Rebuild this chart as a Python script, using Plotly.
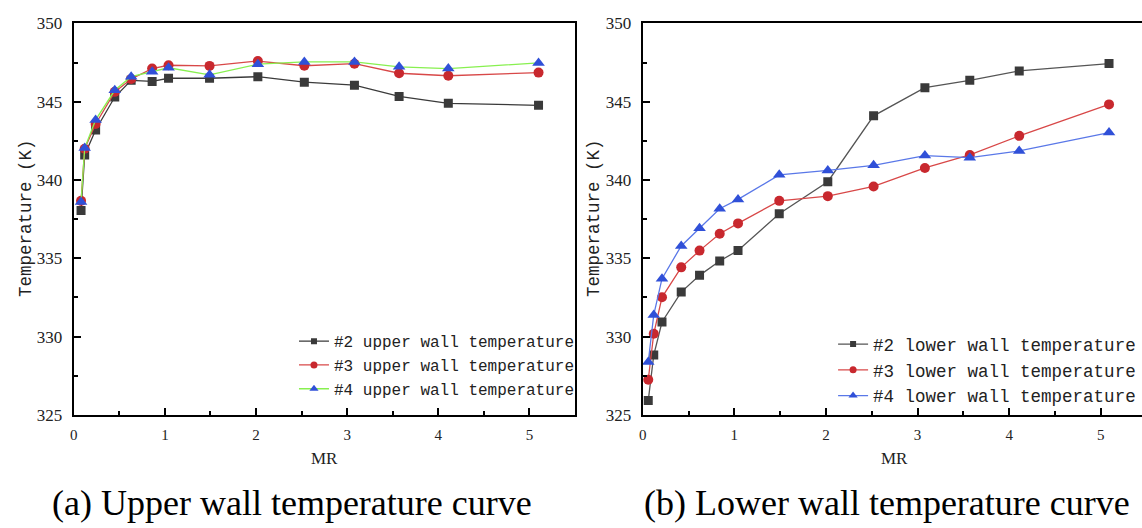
import plotly.graph_objects as go

W, H = 1142, 528

# ---------------- data ----------------
mr_upper = [0.08, 0.12, 0.24, 0.45, 0.63, 0.86, 1.04, 1.49, 2.02, 2.53, 3.08, 3.57, 4.11, 5.10]
upper_2 = [338.05, 341.6, 343.2, 345.3, 346.37, 346.3, 346.5, 346.5, 346.6, 346.25, 346.06, 345.34, 344.9, 344.77]
upper_3 = [338.67, 342.0, 343.58, 345.63, 346.45, 347.12, 347.33, 347.29, 347.6, 347.3, 347.43, 346.82, 346.66, 346.86]
upper_4 = [338.6, 342.04, 343.84, 345.73, 346.6, 346.92, 347.17, 346.72, 347.4, 347.54, 347.54, 347.23, 347.12, 347.48]

mr_lower = [0.06, 0.12, 0.21, 0.42, 0.62, 0.84, 1.04, 1.49, 2.02, 2.52, 3.08, 3.57, 4.11, 5.09]
lower_2 = [325.91, 328.82, 330.93, 332.84, 333.91, 334.83, 335.5, 337.84, 339.89, 344.1, 345.9, 346.37, 346.97, 347.44]
lower_3 = [327.24, 330.18, 332.51, 334.42, 335.49, 336.57, 337.23, 338.67, 338.97, 339.59, 340.77, 341.6, 342.82, 344.83]
lower_4 = [328.37, 331.38, 333.7, 335.79, 336.92, 338.17, 338.76, 340.33, 340.61, 340.94, 341.56, 341.43, 341.86, 343.03]

upper_names = ["#2 upper wall temperature", "#3 upper wall temperature", "#4 upper wall temperature"]
lower_names = ["#2 lower wall temperature", "#3 lower wall temperature", "#4 lower wall temperature"]
captions = ["(a) Upper wall temperature curve", "(b) Lower wall temperature curve"]
x_title = "MR"
y_title = "Temperature (K)"

# ---------------- styles ----------------
BLACK = "#3a3a3a"
RED_M = "#c8282e"
RED_L = "#d84848"
BLUE_M = "#3050d8"
GREEN_L = "#88f050"
BLUE_L = "#5a78e8"

MONO = "Liberation Mono"
SERIF = "Liberation Serif"


def px_x(p):
    return p / W


def px_y(p):
    return (H - p) / H


fig = go.Figure()

styles_upper = [
    dict(symbol="square", color=BLACK, size=9, line=BLACK, lsize=6),
    dict(symbol="circle", color=RED_M, size=10, line=RED_L, lsize=7),
    dict(symbol="triangle-up", color=BLUE_M, size=11, line=GREEN_L, lsize=8),
]
styles_lower = [
    dict(symbol="square", color=BLACK, size=9, line="#555555", lsize=6),
    dict(symbol="circle", color=RED_M, size=10, line=RED_L, lsize=7),
    dict(symbol="triangle-up", color=BLUE_M, size=11, line=BLUE_L, lsize=8),
]


def add_series(xs, names, series, styles, xa, ya, leg):
    # plotted curves
    for name, ys, st in zip(names, series, styles):
        fig.add_trace(go.Scatter(
            x=xs, y=ys, name=name, mode="lines+markers", showlegend=False,
            line=dict(color=st["line"], width=1.3),
            marker=dict(symbol=st["symbol"], color=st["color"], size=st["size"], line=dict(width=0)),
            xaxis=xa, yaxis=ya,
        ))
    # legend entries (smaller symbols, as in the reference legend)
    for name, st in zip(names, styles):
        fig.add_trace(go.Scatter(
            x=[None], y=[None], name=name, mode="lines+markers", showlegend=True,
            line=dict(color=st["line"], width=1.3),
            marker=dict(symbol=st["symbol"], color=st["color"], size=st["lsize"], line=dict(width=0)),
            xaxis=xa, yaxis=ya, legend=leg,
        ))


add_series(mr_upper, upper_names, [upper_2, upper_3, upper_4], styles_upper, "x", "y", "legend")
add_series(mr_lower, lower_names, [lower_2, lower_3, lower_4], styles_lower, "x2", "y2", "legend2")

ydom = [px_y(421), px_y(15)]


def xaxis(domain, rng, anchor, mirror):
    return dict(
        domain=domain, range=rng, anchor=anchor,
        showline=True, linecolor="black", linewidth=2, mirror=mirror,
        ticks="inside", ticklen=7, tickwidth=2, tickcolor="black",
        dtick=1, tick0=0, showgrid=False, zeroline=False,
        minor=dict(ticks="inside", ticklen=4, tickwidth=2, tickcolor="black", dtick=0.5, showgrid=False),
        tickfont=dict(family=SERIF, size=15, color="#222"),
        ticklabelstandoff=5,
    )


def yaxis(anchor, mirror):
    return dict(
        domain=ydom, range=[325, 350], anchor=anchor,
        showline=True, linecolor="black", linewidth=2, mirror=mirror,
        ticks="inside", ticklen=7, tickwidth=2, tickcolor="black",
        dtick=5, tick0=325, showgrid=False, zeroline=False,
        minor=dict(ticks="inside", ticklen=4, tickwidth=2, tickcolor="black", dtick=2.5, showgrid=False),
        tickfont=dict(family=SERIF, size=17, color="#222"),
        ticklabelstandoff=6,
    )


fig.update_layout(
    width=W, height=H,
    margin=dict(l=0, r=0, t=0, b=0),
    paper_bgcolor="white", plot_bgcolor="white",
    xaxis=xaxis([px_x(70), px_x(573)], [0, 5.5], "y", True),
    yaxis=yaxis("x", True),
    xaxis2=xaxis([px_x(641), 1.0], [0, 5.45], "y2", True),
    yaxis2=yaxis("x2", False),
    legend=dict(
        x=px_x(291), y=px_y(327), xanchor="left", yanchor="top",
        bgcolor="rgba(0,0,0,0)", borderwidth=0,
        font=dict(family=MONO, size=16, color="#222"),
        tracegroupgap=0,
    ),
    legend2=dict(
        x=px_x(832), y=px_y(329), xanchor="left", yanchor="top",
        bgcolor="rgba(0,0,0,0)", borderwidth=0,
        font=dict(family=MONO, size=17.5, color="#222"),
        tracegroupgap=0,
    ),
)

ann = []
for cx in [(70 + 573) / 2, (641 + 1146) / 2]:
    ann.append(dict(x=px_x(cx), y=px_y(466), xref="paper", yref="paper", text=x_title,
                    showarrow=False, xanchor="center", yanchor="middle",
                    font=dict(family=SERIF, size=17, color="#222")))
for cx in [22, 592]:
    ann.append(dict(x=px_x(cx), y=px_y(217), xref="paper", yref="paper", text=y_title,
                    showarrow=False, xanchor="center", yanchor="middle", textangle=-90,
                    font=dict(family=MONO, size=17.5, color="#222")))
for cx, t in zip([289, 886], captions):
    ann.append(dict(x=px_x(cx), y=px_y(512), xref="paper", yref="paper", text=t,
                    showarrow=False, xanchor="center", yanchor="middle",
                    font=dict(family=SERIF, size=36, color="black")))
fig.update_layout(annotations=ann)

fig.write_html("out.html")
